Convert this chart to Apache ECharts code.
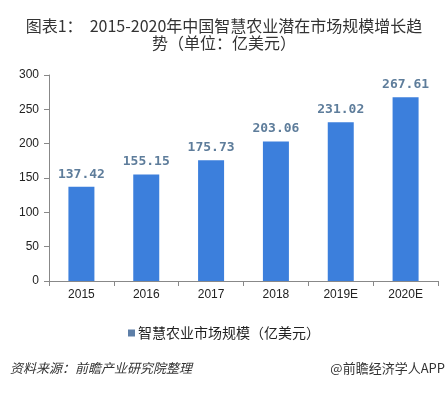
<!DOCTYPE html>
<html><head><meta charset="utf-8">
<script src="https://cdn.jsdelivr.net/npm/echarts@6/dist/echarts.min.js"></script>
<style>html,body{margin:0;padding:0;background:#fff}#c{width:448px;height:394px}</style>
</head><body><div id="c"></div>
<script>
const categories = ['2015','2016','2017','2018','2019E','2020E'];
const values = [137.42,155.15,175.73,203.06,231.02,267.61];
const seriesName = '智慧农业市场规模（亿美元）';
const titleText = '图表1：  2015-2020年中国智慧农业潜在市场规模增长趋\n势（单位：亿美元）';
const sourceText = '资料来源：前瞻产业研究院整理';
const brandText = '@前瞻经济学人APP';

const chart = echarts.init(document.getElementById('c'));
chart.setOption({
  backgroundColor:'#fff',
  animation:false,
  title:{text:titleText,left:'center',top:12,textStyle:{fontSize:16,fontWeight:'normal',color:'#333',lineHeight:17,fontFamily:'Noto Sans CJK SC'}},
  graphic:[
    {type:'text',left:10,top:362,style:{text:sourceText,fontSize:13,fontStyle:'italic',fill:'#333',fontFamily:'Noto Sans CJK SC'}},
    {type:'text',right:3,top:362,style:{text:brandText,fontSize:13,fill:'#333',fontFamily:'Noto Sans CJK SC'}}
  ],
  legend:{data:[seriesName],bottom:49,left:'center',itemWidth:7,itemHeight:7,itemGap:4,icon:'rect',
    itemStyle:{color:'#5e7fa8'},
    textStyle:{fontSize:14,color:'#222',fontFamily:'Noto Sans CJK SC',padding:[0,0,0,-2]}},
  grid:{left:49,right:10,top:75,bottom:113},
  xAxis:{type:'category',data:categories,
    axisLine:{lineStyle:{color:'#888'}},
    axisTick:{show:true,length:5,lineStyle:{color:'#888'}},
    axisLabel:{color:'#222',fontSize:12,margin:8,fontFamily:'Liberation Sans'}},
  yAxis:{type:'value',min:0,max:300,interval:50,
    axisLine:{show:true,lineStyle:{color:'#888'}},
    axisTick:{show:true,length:5,lineStyle:{color:'#888'}},
    splitLine:{show:false},
    axisLabel:{color:'#222',fontSize:12,margin:10,fontFamily:'Liberation Sans'}},
  series:[{name:seriesName,type:'bar',data:values,barWidth:26,
    itemStyle:{color:'#3c7fdc'},
    label:{show:true,position:'top',distance:6,color:'#5e7d9b',fontSize:13,fontWeight:'bold',fontFamily:'DejaVu Sans Mono'}
  }]
});
</script></body></html>
